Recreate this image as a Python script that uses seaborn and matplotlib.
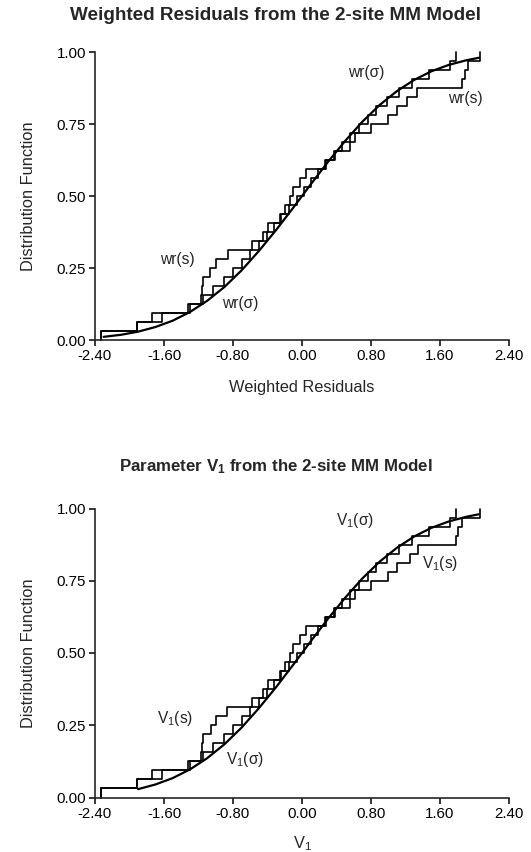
import numpy as np
import pandas as pd
import matplotlib
matplotlib.use("Agg")
import matplotlib.pyplot as plt
import seaborn as sns

# ---- data -------------------------------------------------------------
# sorted weighted residuals (n = 32) for the two weighting schemes
wr_sigma = [-2.33, -1.91, -1.74, -1.32, -1.15, -1.03, -0.90, -0.80, -0.70, -0.60,
            -0.50, -0.41, -0.33, -0.24, -0.15, -0.06, 0.02, 0.10, 0.19, 0.28,
            0.37, 0.46, 0.56, 0.66, 0.76, 0.86, 0.98, 1.12, 1.28, 1.47, 1.72, 1.79]
wr_s = [-2.33, -1.91, -1.62, -1.30, -1.17, -1.16, -1.15, -1.07, -1.00, -0.86,
        -0.58, -0.45, -0.39, -0.26, -0.20, -0.14, -0.10, -0.02, 0.05, 0.27,
        0.38, 0.56, 0.62, 0.80, 1.00, 1.10, 1.22, 1.33, 1.85, 1.89, 1.92, 2.06]

# standardised V1 estimates (n = 32)
v1_sigma = [-2.33, -1.91, -1.74, -1.32, -1.15, -1.03, -0.90, -0.80, -0.70, -0.60,
            -0.50, -0.41, -0.33, -0.24, -0.15, -0.06, 0.02, 0.10, 0.19, 0.28,
            0.37, 0.46, 0.56, 0.66, 0.76, 0.86, 0.98, 1.12, 1.28, 1.47, 1.72, 1.79]
v1_s = [-2.33, -1.91, -1.62, -1.30, -1.17, -1.16, -1.15, -1.05, -1.00, -0.87,
        -0.58, -0.45, -0.39, -0.26, -0.20, -0.14, -0.10, -0.02, 0.05, 0.27,
        0.38, 0.56, 0.62, 0.80, 1.00, 1.10, 1.25, 1.35, 1.78, 1.81, 1.85, 2.06]

# theoretical distribution function
curve_x = [-2.30, -2.10, -1.90, -1.70, -1.50, -1.30, -1.10, -0.90, -0.70, -0.50,
           -0.30, -0.10, 0.10, 0.30, 0.50, 0.70, 0.90, 1.10, 1.30, 1.50, 1.70,
           1.90, 2.05]
curve_y = [0.011, 0.018, 0.029, 0.045, 0.067, 0.097, 0.136, 0.184, 0.242, 0.309,
           0.382, 0.460, 0.540, 0.618, 0.691, 0.758, 0.816, 0.864, 0.903, 0.933,
           0.955, 0.971, 0.980]
curve2_x = curve_x[2:]
curve2_y = curve_y[2:]

x_ticks = [-2.40, -1.60, -0.80, 0.00, 0.80, 1.60, 2.40]
y_ticks = [0.00, 0.25, 0.50, 0.75, 1.00]

# ---- style --------------------------------------------------------------
sns.set_style("ticks")
plt.rcParams["font.family"] = ["Liberation Sans", "DejaVu Sans"]
plt.rcParams["mathtext.fontset"] = "custom"
plt.rcParams["mathtext.rm"] = "Liberation Sans"
plt.rcParams["mathtext.it"] = "Liberation Sans"
plt.rcParams["mathtext.bf"] = "Liberation Sans:bold"
plt.rcParams["axes.linewidth"] = 1.2

fig = plt.figure(figsize=(5.31, 8.52), dpi=100)
W, H = 531, 852
ax1 = fig.add_axes([95 / W, 1 - 340 / H, 414 / W, 288 / H])
ax2 = fig.add_axes([95 / W, 1 - 797.5 / H, 414 / W, 289 / H])


def panel(ax, a, b, cx, cy, xlabel):
    sns.ecdfplot(x=a, ax=ax, color="black", lw=1.2)
    sns.ecdfplot(x=b, ax=ax, color="black", lw=1.2)
    sns.lineplot(x=cx, y=cy, ax=ax, color="black", lw=1.6, sort=False)
    ax.set_xlim(-2.4, 2.4)
    ax.set_ylim(0, 1.0)
    ax.set_xticks(x_ticks)
    ax.set_xticklabels([f"{t:.2f}" for t in x_ticks])
    ax.set_yticks(y_ticks)
    ax.set_yticklabels([f"{t:.2f}" for t in y_ticks])
    ax.tick_params(direction="out", length=4, width=1.1, labelsize=10.8,
                   colors="black", pad=2.5)
    sns.despine(ax=ax)
    ax.set_ylabel("Distribution Function", fontsize=11.8, labelpad=15)
    ax.set_xlabel(xlabel, fontsize=11.8, labelpad=12)
    for line in ax.lines:
        line.set_clip_on(False)


panel(ax1, wr_sigma, wr_s, curve_x, curve_y, "Weighted Residuals")
panel(ax2, v1_sigma, v1_s, curve2_x, curve2_y, r"V$_1$")
ax2.xaxis.labelpad = 10

fig.text(276 / W, 1 - 15 / H, "Weighted Residuals from the 2-site MM Model",
         fontsize=13.6, fontweight="bold", ha="center", va="center")
fig.text(276 / W, 1 - 467 / H, r"Parameter V$_\mathbf{1}$ from the 2-site MM Model",
         fontsize=12.2, fontweight="bold", ha="center", va="center")

lab = dict(fontsize=11.2, ha="center", va="center")
ax1.text(-1.45, 0.278, "wr(s)", **lab)
ax1.text(-0.72, 0.128, "wr(σ)", **lab)
ax1.text(0.75, 0.93, "wr(σ)", **lab)
ax1.text(1.89, 0.837, "wr(s)", **lab)

ax2.text(-1.47, 0.275, r"V$_1$(s)", **lab)
ax2.text(-0.66, 0.13, r"V$_1$(σ)", **lab)
ax2.text(0.61, 0.96, r"V$_1$(σ)", **lab)
ax2.text(1.60, 0.81, r"V$_1$(s)", **lab)

fig.savefig("out.png", dpi=100, facecolor="white")
